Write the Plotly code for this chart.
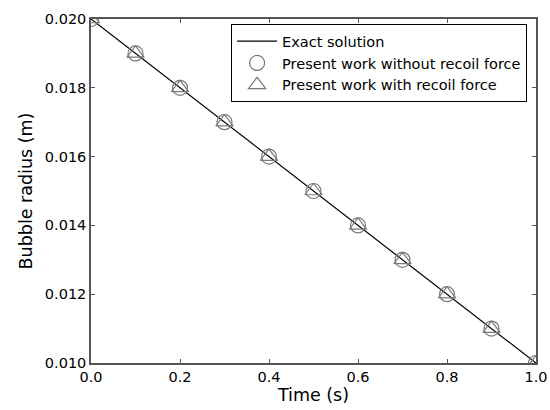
import plotly.graph_objects as go

time_exact = [0.0, 1.0]
radius_exact = [0.020, 0.010]
time_pts = [0.0, 0.1, 0.2, 0.3, 0.4, 0.5, 0.6, 0.7, 0.8, 0.9, 1.0]
radius_no_recoil = [0.020, 0.019, 0.018, 0.017, 0.016, 0.015, 0.014, 0.013, 0.012, 0.011, 0.010]
radius_recoil = [0.020, 0.019, 0.018, 0.017, 0.016, 0.015, 0.014, 0.013, 0.012, 0.011, 0.010]
x_ticks = [0.0, 0.2, 0.4, 0.6, 0.8, 1.0]
y_ticks = [0.010, 0.012, 0.014, 0.016, 0.018, 0.020]

fig = go.Figure()
fig.add_trace(go.Scatter(x=time_exact, y=radius_exact, mode="lines",
                         line=dict(color="black", width=1.2), name="Exact solution"))
fig.add_trace(go.Scatter(x=time_pts, y=radius_no_recoil, mode="markers",
                         marker=dict(symbol="circle-open", size=15, color="#7a7a7a",
                                     line=dict(width=1.2, color="#7a7a7a")),
                         name="Present work without recoil force", cliponaxis=True))
fig.add_trace(go.Scatter(x=time_pts, y=radius_recoil, mode="markers",
                         marker=dict(symbol="triangle-up-open", size=15, color="#7a7a7a",
                                     line=dict(width=1.2, color="#7a7a7a")),
                         name="Present work with recoil force", cliponaxis=True))

axis_common = dict(showline=True, linecolor="#555555", linewidth=1.5, mirror="ticks",
                   ticks="inside", ticklen=4, tickcolor="#555555", showgrid=False,
                   zeroline=False, automargin=False, tickfont=dict(size=14.5, color="black"))
fig.update_xaxes(range=[0, 1], tickvals=x_ticks, tickformat=".1f",
                 title=dict(text="Time (s)", font=dict(size=17.5, color="black"), standoff=5),
                 **axis_common)
fig.update_yaxes(range=[0.010, 0.020], tickvals=y_ticks, tickformat=".3f",
                 title=dict(text="Bubble radius (m)", font=dict(size=17.5, color="black"), standoff=8),
                 **axis_common)

fig.update_layout(
    width=550, height=410,
    margin=dict(l=91, r=14, t=19, b=47),
    paper_bgcolor="white", plot_bgcolor="white",
    font=dict(family="DejaVu Sans", color="black"),
    legend=dict(x=0.98, y=0.985, xanchor="right", yanchor="top",
                bordercolor="black", borderwidth=1, bgcolor="white",
                font=dict(size=14.5), tracegroupgap=0, itemwidth=40),
    showlegend=True,
)
fig.write_html("out.html")
